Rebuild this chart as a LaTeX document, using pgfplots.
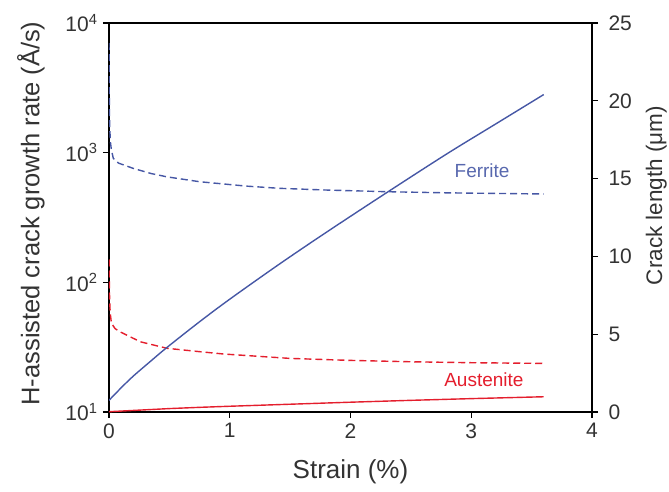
\documentclass[border=0pt]{standalone}
\usepackage{fontspec}
\setmainfont{Liberation Sans}
\usepackage{pgfplots}
\pgfplotsset{compat=1.18}
\definecolor{fblue}{RGB}{70,87,165}
\definecolor{ared}{RGB}{228,30,45}
\begin{document}
\begin{tikzpicture}
\begin{axis}[
  name=ax,
  scale only axis, width=483pt, height=389pt,
  xmin=0, xmax=4, ymode=log, ymin=10, ymax=10000,
  xtick={0,1,2,3,4}, ytick={10,100,1000,10000},
  yticklabels={10\textsuperscript{1},10\textsuperscript{2},10\textsuperscript{3},10\textsuperscript{4}},
  yminorticks=false, xminorticks=false,
  xtick pos=bottom, ytick pos=left,
  tick align=outside, major tick length=6pt,
  every tick/.style={black, line width=1.2pt},
  axis line style={line width=1.6pt},
  /pgf/number format/assume math mode=true,
  tick label style={font=\fontsize{21}{24}\selectfont, text=black!80},
  xticklabel style={yshift=-2pt},
  yticklabel style={xshift=-2pt},
  xlabel={Strain (\%)},
  ylabel={H-assisted crack growth rate (Å/s)},
  xlabel style={font=\fontsize{26}{30}\selectfont, text=black!80, yshift=-14pt},
  ylabel style={font=\fontsize{25.5}{30}\selectfont, text=black!80, yshift=14pt, xshift=4pt},
  clip=true,
]
\addplot[fblue, line width=1.4pt, dash pattern=on 7pt off 4pt] coordinates {
(0.0003,7000) (0.001,4500) (0.002,3000) (0.004,2000) (0.007,1500) (0.012,1200)
(0.02,1050) (0.036,903) (0.08,830) (0.2,757) (0.35,690) (0.48,651) (0.75,597)
(1.14,552) (1.41,531) (1.8,515) (2.3,500) (2.8,490) (3.2,485) (3.6,480)};
\addplot[ared, line width=1.4pt, dash pattern=on 7pt off 4pt] coordinates {
(0.0005,150) (0.002,110) (0.005,75) (0.01,58) (0.02,48.5) (0.05,44) (0.09,41.6)
(0.26,34.8) (0.48,31) (0.75,29.2) (0.95,28) (1.5,25.9) (2,25) (2.5,24.4) (3,24) (3.6,23.7)};
\node[text=fblue!90, font=\fontsize{19}{22}\selectfont] at (axis cs:3.09,721) {Ferrite};
\node[text=ared, font=\fontsize{19}{22}\selectfont] at (axis cs:3.105,17.7) {Austenite};
\end{axis}
\begin{axis}[
  scale only axis, width=483pt, height=389pt,
  xmin=0, xmax=4, ymin=0, ymax=25,
  axis x line=none, axis y line*=right,
  ytick={0,5,10,15,20,25},
  tick align=outside, major tick length=6pt,
  every tick/.style={black, line width=1.2pt},
  axis line style={line width=1.6pt},
  /pgf/number format/assume math mode=true,
  tick label style={font=\fontsize{21}{24}\selectfont, text=black!80},
  yticklabel style={xshift=7pt},
  ylabel={Crack length (μm)},
  ylabel style={font=\fontsize{22.5}{27}\selectfont, text=black!80, yshift=-7pt, xshift=22pt},
]
\addplot[fblue, line width=1.4pt, smooth] coordinates {
(0,0.75) (0.1,1.55) (0.2,2.3) (0.35,3.3) (0.48,4.15) (0.75,5.8) (1,7.25) (1.41,9.5)
(1.8,11.55) (2.3,14.1) (2.8,16.6) (3.2,18.5) (3.6,20.4)};
\addplot[ared, line width=1.4pt] coordinates {
(0,0.02) (0.25,0.12) (0.5,0.22) (0.75,0.3) (1,0.37) (1.5,0.5) (2,0.63) (2.5,0.75) (3,0.86) (3.6,0.98)};
\end{axis}
\pgfresetboundingbox
\useasboundingbox ([shift={(-109pt,-79pt)}]ax.south west) rectangle ([shift={(77pt,23pt)}]ax.north east);
\end{tikzpicture}
\end{document}
